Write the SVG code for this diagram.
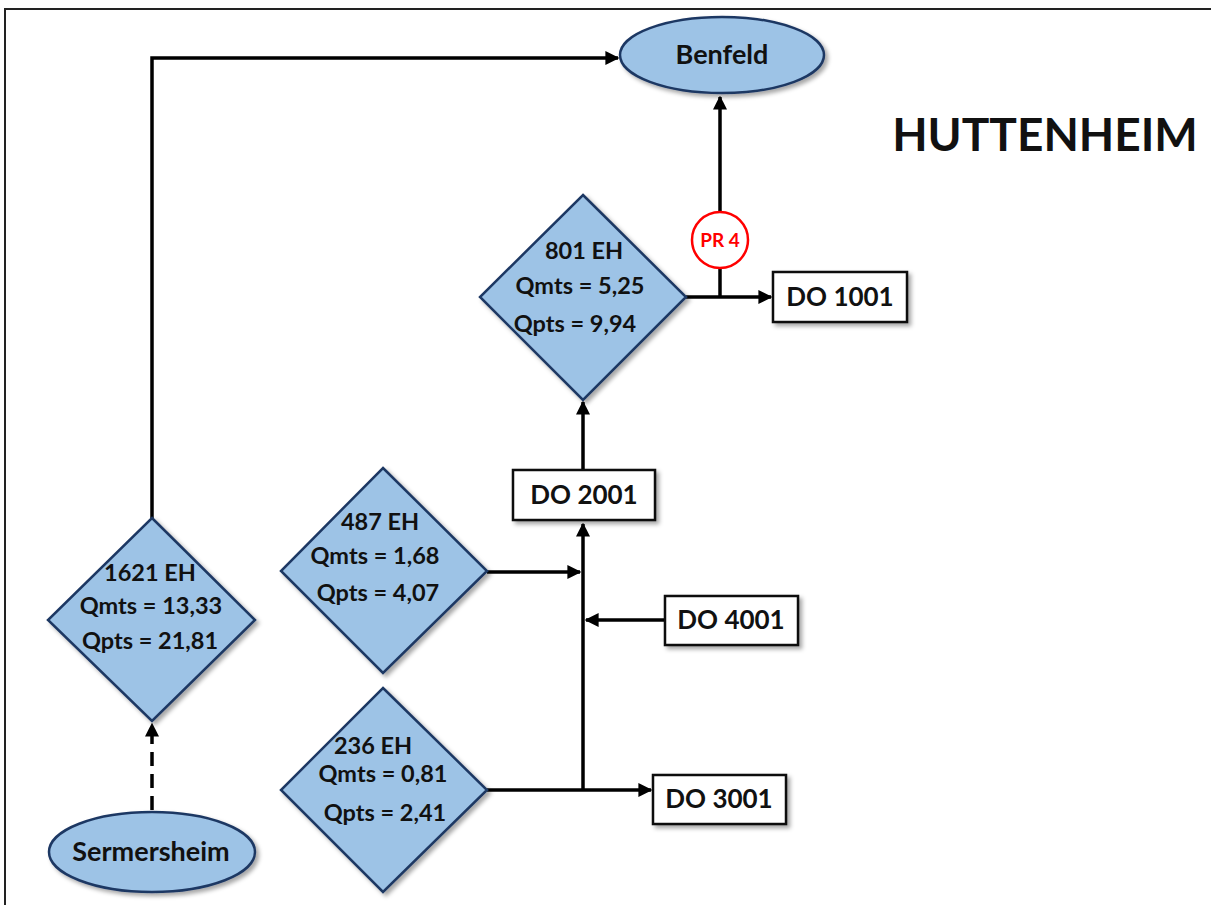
<svg xmlns="http://www.w3.org/2000/svg" width="1211" height="905" viewBox="0 0 1211 905">
<defs>
<style>
.t{font-family:Lato,"Liberation Sans",sans-serif;font-weight:bold;fill:#111;text-anchor:middle}
.dia{fill:#9dc3e6;stroke:#1f3864;stroke-width:2.5}
.ell{fill:#9dc3e6;stroke:#1f3864;stroke-width:2.5}
.box{fill:#fff;stroke:#111;stroke-width:2.5}
.ln{fill:none;stroke:#000;stroke-width:3.5}
</style>
<marker id="ar" viewBox="0 0 10 10" refX="9" refY="5" markerWidth="4" markerHeight="4" orient="auto" markerUnits="strokeWidth">
<path d="M0,0 L10,5 L0,10 z" fill="#000"/>
</marker>
<filter id="sh" x="-10%" y="-10%" width="130%" height="140%">
<feDropShadow dx="3" dy="3" stdDeviation="2" flood-color="#000" flood-opacity="0.35"/>
</filter>
</defs>
<rect width="1211" height="905" fill="#fff"/>
<path d="M5,905 V9 H1211" fill="none" stroke="#222" stroke-width="2"/>
<text class="t" x="1045" y="151" font-size="46">HUTTENHEIM</text>

<g id="connectors">
<path class="ln" d="M152,518 V58 H618" marker-end="url(#ar)"/>
<path class="ln" d="M152,810 V724" stroke-dasharray="14,8" marker-end="url(#ar)"/>
<path class="ln" d="M686,297 H771" marker-end="url(#ar)"/>
<path class="ln" d="M720,297 V268"/>
<path class="ln" d="M720,212 V97" marker-end="url(#ar)"/>
<path class="ln" d="M583,470 V402" marker-end="url(#ar)"/>
<path class="ln" d="M583,790 V524" marker-end="url(#ar)"/>
<path class="ln" d="M487,572 H580" marker-end="url(#ar)"/>
<path class="ln" d="M665,620 H586" marker-end="url(#ar)"/>
<path class="ln" d="M487,790 H651" stroke-width="4" marker-end="url(#ar)"/>
</g>

<g id="benfeld">
<ellipse class="ell" cx="722" cy="55" rx="102" ry="38" filter="url(#sh)"/>
<text class="t" x="722" y="64" font-size="27">Benfeld</text>
</g>
<g id="sermersheim">
<ellipse class="ell" cx="152" cy="852" rx="103" ry="40" filter="url(#sh)"/>
<text class="t" x="151" y="861" font-size="27">Sermersheim</text>
</g>

<g id="n1621">
<polygon class="dia" points="152,518 255,620 152,721 48,620" filter="url(#sh)"/>
<text class="t" x="150" y="581" font-size="23.5">1621 EH</text>
<text class="t" x="151" y="614" font-size="23.5">Qmts = 13,33</text>
<text class="t" x="150" y="649" font-size="23.5">Qpts = 21,81</text>
</g>
<g id="n801">
<polygon class="dia" points="583,195 686,297 583,400 480,297" filter="url(#sh)"/>
<text class="t" x="584" y="259" font-size="23.5">801 EH</text>
<text class="t" x="580" y="294" font-size="23.5">Qmts = 5,25</text>
<text class="t" x="575" y="332" font-size="23.5">Qpts = 9,94</text>
</g>
<g id="n487">
<polygon class="dia" points="383,468 487,571 383,673 281,571" filter="url(#sh)"/>
<text class="t" x="380" y="530" font-size="23.5">487 EH</text>
<text class="t" x="375" y="564" font-size="23.5">Qmts = 1,68</text>
<text class="t" x="378" y="601" font-size="23.5">Qpts = 4,07</text>
</g>
<g id="n236">
<polygon class="dia" points="383,688 487,790 383,892 281,790" filter="url(#sh)"/>
<text class="t" x="373" y="754" font-size="23.5">236 EH</text>
<text class="t" x="383" y="782" font-size="23.5">Qmts = 0,81</text>
<text class="t" x="385" y="821" font-size="23.5">Qpts = 2,41</text>
</g>

<g id="pr4">
<circle cx="720" cy="240" r="28" fill="#fff" stroke="#ff0000" stroke-width="2.5"/>
<text class="t" x="720" y="247" font-size="19" style="fill:#ff0000">PR 4</text>
</g>
<g id="do1001">
<rect class="box" x="773" y="272" width="134" height="50" filter="url(#sh)"/>
<text class="t" x="840" y="306" font-size="26">DO 1001</text>
</g>
<g id="do2001">
<rect class="box" x="513" y="470" width="142" height="50" filter="url(#sh)"/>
<text class="t" x="584" y="504" font-size="26">DO 2001</text>
</g>
<g id="do4001">
<rect class="box" x="665" y="596" width="133" height="49" filter="url(#sh)"/>
<text class="t" x="731" y="629" font-size="26">DO 4001</text>
</g>
<g id="do3001">
<rect class="box" x="653" y="775" width="133" height="49" filter="url(#sh)"/>
<text class="t" x="719" y="808" font-size="26">DO 3001</text>
</g>
</svg>
